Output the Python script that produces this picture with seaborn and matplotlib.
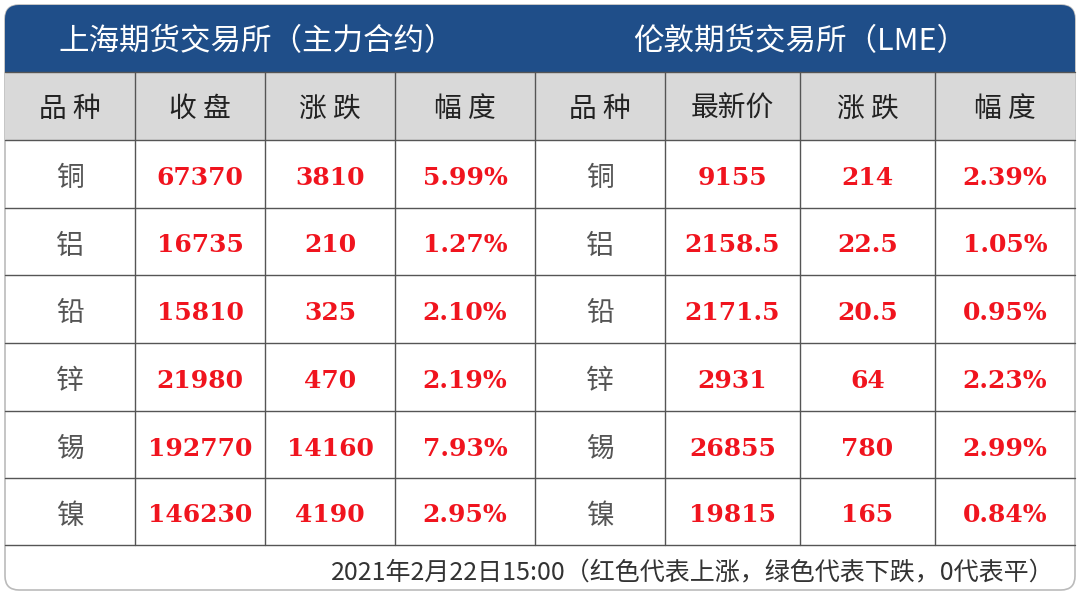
import matplotlib
matplotlib.use("Agg")
import matplotlib.pyplot as plt
import seaborn as sns
from matplotlib.patches import Rectangle, FancyBboxPatch

sns.set_theme(style="white")
plt.rcParams['font.family'] = ['Noto Sans CJK SC', 'DejaVu Sans']

titles = ["上海期货交易所（主力合约）", "伦敦期货交易所（LME）"]
headers = ["品 种", "收 盘", "涨 跌", "幅 度", "品 种", "最新价", "涨 跌", "幅 度"]
metals = ["铜", "铝", "铅", "锌", "锡", "镍"]
shfe_close = ["67370", "16735", "15810", "21980", "192770", "146230"]
shfe_chg = ["3810", "210", "325", "470", "14160", "4190"]
shfe_pct = ["5.99%", "1.27%", "2.10%", "2.19%", "7.93%", "2.95%"]
lme_last = ["9155", "2158.5", "2171.5", "2931", "26855", "19815"]
lme_chg = ["214", "22.5", "20.5", "64", "780", "165"]
lme_pct = ["2.39%", "1.05%", "0.95%", "2.23%", "2.99%", "0.84%"]
footer = "2021年2月22日15:00（红色代表上涨，绿色代表下跌，0代表平）"

xs = [5, 135, 265, 395, 535, 665, 800, 935, 1075]
ys = [72, 140, 208, 275, 343, 411, 478, 545]

fig = plt.figure(figsize=(10.8, 5.98), dpi=100)
ax = fig.add_axes([0, 0, 1, 1])
ax.set_xlim(0, 1080); ax.set_ylim(598, 0); ax.axis("off")

blue = "#1F4E89"
ax.add_patch(FancyBboxPatch((5, 5), 1070, 585, boxstyle="round,pad=0,rounding_size=14",
                            fc="white", ec="#BBBBBB", lw=1.2))
ax.add_patch(FancyBboxPatch((5, 5), 1070, 80, boxstyle="round,pad=0,rounding_size=14",
                            fc=blue, ec="none"))
ax.add_patch(Rectangle((5, 60), 1070, 12, fc=blue, ec="none"))
ax.add_patch(Rectangle((5, 72), 1070, 68, fc="#D9D9D9", ec="none"))

ax.text(58, 42, titles[0], color="white", fontsize=22, ha="left", va="center")
ax.text(633, 42, titles[1], color="white", fontsize=22, ha="left", va="center")

lc = "#555555"
for y in ys:
    ax.plot([5, 1075], [y, y], color=lc, lw=1)
for x in xs[1:-1]:
    ax.plot([x, x], [72, 545], color=lc, lw=1)

for i, h in enumerate(headers):
    ax.text((xs[i] + xs[i+1]) / 2, 109, h, fontsize=20, ha="center", va="center",
            color="#222222")

red = "#F0141E"
cols = [metals, shfe_close, shfe_chg, shfe_pct, metals, lme_last, lme_chg, lme_pct]
for c, vals in enumerate(cols):
    cx = (xs[c] + xs[c+1]) / 2
    for r, v in enumerate(vals):
        cy = (ys[r+1] + ys[r+2]) / 2 + 4
        if c in (0, 4):
            ax.text(cx, cy, v, fontsize=20, ha="center", va="center", color="#555555")
        else:
            ax.text(cx, cy, v, fontsize=18, ha="center", va="center", color=red,
                    fontweight="bold", family=["DejaVu Serif"])

ax.text(1055, 572, footer, fontsize=18, ha="right", va="center", color="#333333",
        family=["Noto Sans CJK SC", "DejaVu Sans"])

fig.savefig("out.png", dpi=100)
